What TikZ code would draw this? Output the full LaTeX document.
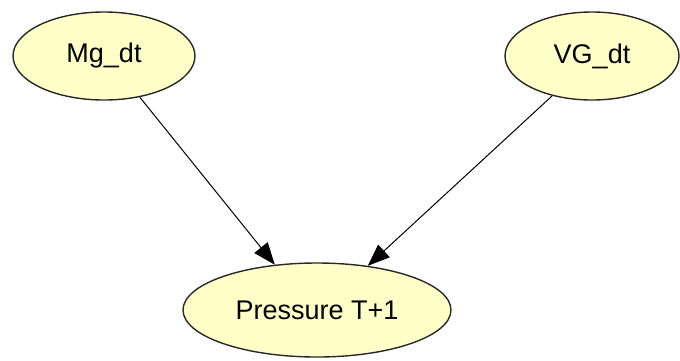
\documentclass[tikz,border=0pt]{standalone}
\usepackage{fontspec}
\setmainfont{Liberation Sans}
\usetikzlibrary{shapes.geometric,arrows.meta}
\definecolor{nodefill}{RGB}{255,255,200}
\definecolor{nodeline}{RGB}{40,40,40}
\tikzset{
  bnode/.style={ellipse, draw=nodeline, line width=1.4pt, fill=nodefill, inner sep=0pt,
    font=\fontsize{27}{32}\selectfont},
  link/.style={draw=black, line width=1pt, -{Triangle[length=22pt,width=17pt]}}
}
\begin{document}
\begin{tikzpicture}[x=1pt,y=-1pt]
\useasboundingbox (0,0) rectangle (680,360);
\node[bnode, minimum width=182pt, minimum height=88pt] (mg) at (104,56) {Mg\_dt};
\node[bnode, minimum width=174pt, minimum height=88pt] (vg) at (592,56) {VG\_dt};
\node[bnode, minimum width=268pt, minimum height=94pt] (p) at (317,310) {Pressure T+1};
\draw[link] (mg.-49) -- (p.133);
\draw[link] (vg.225) -- (p.41);
\end{tikzpicture}
\end{document}
